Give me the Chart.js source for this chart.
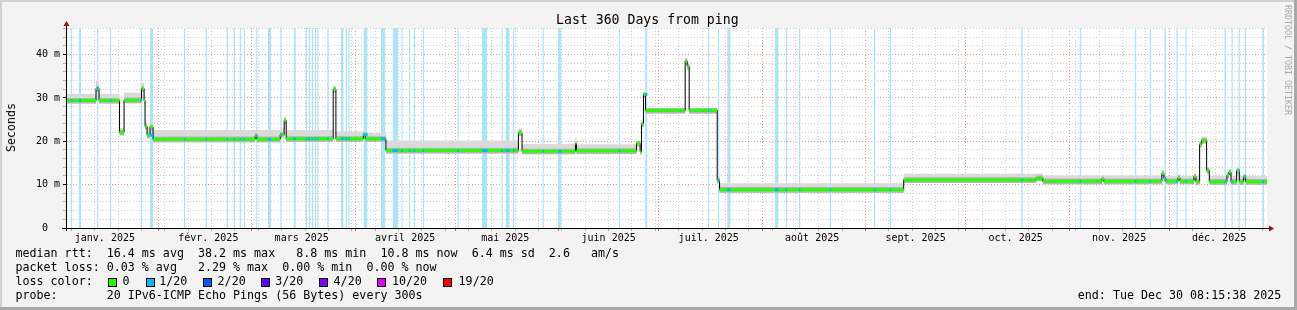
<!DOCTYPE html>
<html>
<head>
<meta charset="utf-8">
<script src="https://cdn.jsdelivr.net/npm/chart.js@4.4.1/dist/chart.umd.min.js"></script>
<style>
  html, body { margin: 0; padding: 0; background: #f3f3f3; }
  #wrap { position: relative; width: 1297px; height: 310px; overflow: hidden; background: #f3f3f3; }
  #chart { position: absolute; left: 0; top: 0; }
  .t { position: absolute; font-family: "DejaVu Sans Mono", monospace; color: #000; white-space: pre; line-height: 1; }
  .leg { font-size: 11.66px; }
  .box { position: absolute; width: 9px; height: 9px; box-sizing: border-box; border: 1px solid #000; }
  .edge { position: absolute; }
</style>
</head>
<body>
<div id="wrap">
  <canvas id="chart" width="1297" height="310"></canvas>

  <div class="t" style="left:556px; top:12.8px; font-size:13.2px;">Last 360 Days from ping</div>
  <div class="t leg" style="left:4.5px; top:103px; writing-mode:vertical-rl; transform:rotate(180deg); line-height:12px;">Seconds</div>
  <div class="t" style="left:1283px; top:5px; font-size:8.3px; line-height:9px; color:#aaaaaa; writing-mode:vertical-rl;">RRDTOOL / TOBI OETIKER</div>

  <div class="t leg" style="left:15.5px; top:248.1px;">median rtt:  16.4 ms avg  38.2 ms max   8.8 ms min  10.8 ms now  6.4 ms sd  2.6   am/s</div>
  <div class="t leg" style="left:15.5px; top:262.1px;">packet loss: 0.03 % avg   2.29 % max  0.00 % min  0.00 % now</div>
  <div class="t leg" style="left:15.5px; top:276.1px;">loss color:</div>
  <div id="losslegend"></div>
  <div class="t leg" style="left:15.5px; top:290.1px;">probe:       20 IPv6-ICMP Echo Pings (56 Bytes) every 300s</div>
  <div class="t leg" style="left:1077.8px; top:290.1px;">end: Tue Dec 30 08:15:38 2025</div>

  <div class="edge" style="left:0; top:0; width:1297px; height:2px; background:#d2d2d2;"></div>
  <div class="edge" style="left:0; top:0; width:2px; height:310px; background:#d2d2d2;"></div>
  <div class="edge" style="left:1294px; top:0; width:3px; height:310px; background:#a8a8a8;"></div>
  <div class="edge" style="left:0; top:307px; width:1297px; height:3px; background:#a8a8a8;"></div>
</div>

<script>
// Time axis: days since Jan 4 2025 08:15 (360 days up to the end time)
const START = Date.UTC(2025, 0, 4, 8, 15);
const DAY = 86400000;
const SPAN = 360;

const monthLabels = ['janv. 2025', 'févr. 2025', 'mars 2025', 'avril 2025', 'mai 2025', 'juin 2025',
                     'juil. 2025', 'août 2025', 'sept. 2025', 'oct. 2025', 'nov. 2025', 'déc. 2025'];

const yTickValues = [0, 10, 20, 30, 40];
const yTickText = ['0  ', '10 m', '20 m', '30 m', '40 m'];
const yMax = 46.15;

// Median rtt (ms): level starts at stepDay[i] and holds until the next step
const stepDay = [0, 9.0, 9.9, 16.05, 17.4, 22.65, 23.4, 23.7, 24.3, 25.2, 26.1, 56.7, 57.2, 64.2, 65.4, 66.0,
                 80.1, 80.9, 89.1, 89.7, 95.9, 135.6, 136.7, 152.7, 153.0, 171.0, 172.1, 172.5, 173.1, 173.7,
                 185.6, 186.2, 186.8, 195.2, 195.9, 251.1, 290.8, 292.8, 310.5, 311.1, 328.5, 329.1, 329.7,
                 333.3, 333.9, 338.1, 338.7, 339.8, 340.4, 341.9, 342.7, 348.0, 348.6, 349.2, 350.9, 351.7,
                 353.0, 353.6];
const stepMs = [29.4, 32.2, 29.4, 22.1, 29.5, 32.2, 29.4, 23.5, 21.4, 23.3, 20.5, 21.3, 20.5, 21.5, 24.8, 20.6,
                32.0, 20.6, 21.5, 20.6, 17.9, 22.0, 17.7, 19.5, 17.8, 19.5, 17.6, 24.0, 30.8, 27.1,
                38.5, 37.3, 27.1, 11.0, 8.85, 11.1, 11.5, 10.8, 11.3, 10.8, 12.6, 11.4, 10.8,
                11.6, 10.8, 11.9, 10.7, 19.3, 20.2, 13.3, 10.7, 12.2, 12.9, 10.7, 13.2, 10.7,
                11.8, 10.7];
// Upper edge of the light smoke (ms) for each step
const smokeTop = [31.0, 34.0, 31.0, 23.0, 31.2, 33.5, 30.5, 24.5, 23.0, 24.5, 22.6, 22.8, 22.6, 23.0, 25.8, 22.6,
                  32.8, 22.3, 22.5, 21.9, 20.2, 23.0, 19.4, 20.8, 19.3, 20.0, 18.2, 25.0, 31.5, 27.6,
                  39.2, 38.0, 27.6, 12.5, 10.3, 12.5, 12.6, 12.1, 12.2, 12.1, 13.4, 12.3, 12.0,
                  12.3, 12.0, 12.5, 12.0, 20.0, 21.1, 14.0, 12.0, 13.0, 13.6, 12.0, 13.8, 12.0,
                  12.4, 12.0];
const smokeDepth = 0.7;   // smoke below the median (ms)
const smokeCore = 0.6;    // darker smoke above the median (ms)

// Periods with packet loss (days)
const lossFrom = [1.5, 3.9, 9.3, 13.2, 22.3, 25.1, 35.35, 41.8, 48.1, 50.2, 52.0, 53.2, 57.0, 60.5, 64.2, 68.2,
                  71.8, 72.7, 73.6, 74.5, 75.3, 78.3, 82.4, 83.8, 84.6, 89.2, 94.4, 97.9, 100.5, 102.8, 104.2,
                  106.9, 117.3, 124.7, 130.5, 131.8, 134.0, 142.8, 147.5, 165.7, 173.6, 192.4, 195.4, 198.2,
                  212.5, 215.7, 219.7, 228.9, 242.2, 246.9, 286.3, 303.8, 320.4, 324.8, 329.2, 332.8, 335.5,
                  347.2, 349.3, 351.4, 353.3, 358.6];
const lossTo = [1.95, 4.5, 9.75, 13.6, 22.75, 26.1, 35.8, 42.25, 48.55, 50.65, 52.45, 53.65, 57.45, 61.5, 64.65, 68.9,
                72.25, 73.15, 74.05, 74.95, 75.75, 78.75, 83.2, 84.25, 85.05, 90.4, 95.7, 99.5, 100.95, 103.25, 104.65,
                107.35, 117.75, 126.3, 130.95, 133.0, 134.45, 143.25, 148.5, 166.15, 174.3, 192.85, 195.85, 199.2,
                213.6, 216.15, 220.15, 229.35, 242.65, 247.35, 286.8, 304.25, 320.85, 325.25, 329.7, 333.25, 335.95,
                347.7, 349.75, 351.85, 353.75, 359.1];

const lossColors = ['#26ff00', '#00b8ff', '#0059ff', '#5e00ff', '#7e00ff', '#dd00ff', '#ff0000'];
const lossNames = ['0', '1/20', '2/20', '3/20', '4/20', '10/20', '19/20'];

// Legend boxes
const boxX = [108.3, 145.7, 203.3, 261.3, 319.3, 377.3, 443.3];
const nameX = [122.6, 159.3, 217.6, 275.3, 333.6, 392.0, 458.6];
const legend = document.getElementById('losslegend');
lossNames.forEach((n, i) => {
    const b = document.createElement('div');
    b.className = 'box';
    b.style.left = boxX[i] + 'px';
    b.style.top = '278px';
    b.style.background = lossColors[i];
    legend.appendChild(b);
    const t = document.createElement('div');
    t.className = 't leg';
    t.style.left = nameX[i] + 'px';
    t.style.top = '276.1px';
    t.textContent = n;
    legend.appendChild(t);
});

// Axis positions
const dayOf = (y, m, d) => (Date.UTC(y, m, d) - START) / DAY;
const monthStarts = [];
for (let m = 1; m < 12; m++) monthStarts.push(dayOf(2025, m, 1));
const labelDays = monthLabels.map((_, m) => dayOf(2025, m, 16));
const mondays = [];
for (let d = dayOf(2025, 0, 6); d < SPAN; d += 7) {
    if (!monthStarts.some(s => Math.abs(s - d) < 0.01)) mondays.push(d);
}
const near = (list, v) => list.findIndex(d => Math.abs(d - v) < 0.01);
// one tick per position (a Monday can also be a label day)
const xTicks = [...mondays, ...monthStarts, ...labelDays]
    .sort((a, b) => a - b)
    .filter((v, i, arr) => i === 0 || Math.abs(v - arr[i - 1]) > 0.01);

// Build series
const stepEnd = i => (i + 1 < stepDay.length ? stepDay[i + 1] : SPAN);
const stepped = vals => {
    const pts = stepDay.map((d, i) => ({ x: d, y: vals[i] }));
    pts.push({ x: SPAN, y: vals[vals.length - 1] });
    return pts;
};
const medianAt = d => {
    let v = stepMs[0];
    stepDay.forEach((s, i) => { if (s <= d) v = stepMs[i]; });
    return v;
};

const lossBands = lossFrom.flatMap((f, i) => [{ x: f, y: yMax }, { x: lossTo[i], y: yMax }, { x: lossTo[i], y: null }]);
const greenParts = stepDay.flatMap((d, i) => [{ x: d, y: stepMs[i] }, { x: stepEnd(i), y: stepMs[i] }, { x: stepEnd(i), y: null }]);
const blueParts = lossFrom.flatMap((f, i) => {
    const v = medianAt(f);
    return [{ x: f, y: v }, { x: lossTo[i], y: v }, { x: lossTo[i], y: null }];
});

const base = { pointRadius: 0, tension: 0, borderWidth: 0, fill: false };

const frame = {
    id: 'frame',
    beforeDraw(chart) {
        const { ctx, chartArea: a } = chart;
        ctx.save();
        ctx.fillStyle = '#ffffff';
        ctx.fillRect(a.left, a.top, a.right - a.left, a.bottom - a.top);
        ctx.restore();
    },
    afterDraw(chart) {
        const { ctx, chartArea: a } = chart;
        ctx.save();
        ctx.strokeStyle = '#000';
        ctx.lineWidth = 1;
        ctx.beginPath();
        ctx.moveTo(a.left - 4, a.bottom + 0.5);
        ctx.lineTo(a.right + 3, a.bottom + 0.5);
        ctx.moveTo(a.left + 0.5, a.bottom + 3);
        ctx.lineTo(a.left + 0.5, a.top - 3);
        ctx.stroke();
        ctx.fillStyle = '#a01010';
        ctx.beginPath();
        ctx.moveTo(a.right + 2, a.bottom - 2.5);
        ctx.lineTo(a.right + 7, a.bottom + 0.5);
        ctx.lineTo(a.right + 2, a.bottom + 3.5);
        ctx.fill();
        ctx.beginPath();
        ctx.moveTo(a.left - 2.5, a.top - 2);
        ctx.lineTo(a.left + 0.5, a.top - 7);
        ctx.lineTo(a.left + 3.5, a.top - 2);
        ctx.fill();
        ctx.restore();
    }
};

new Chart(document.getElementById('chart').getContext('2d'), {
    type: 'line',
    data: {
        datasets: [
            { ...base, data: lossBands, fill: 'origin', backgroundColor: '#a9e4f8', order: 10 },
            { ...base, data: stepped(stepMs.map(v => v - smokeDepth)), stepped: true, order: 9 },
            { ...base, data: stepped(smokeTop), stepped: true, fill: '-1', backgroundColor: '#dadada', order: 8 },
            { ...base, data: stepped(stepMs.map(v => v - smokeDepth)), stepped: true, order: 7 },
            { ...base, data: stepped(stepMs.map(v => v + smokeCore)), stepped: true, fill: '-1', backgroundColor: '#b4b4b4', order: 6 },
            { ...base, data: stepped(stepMs), stepped: true, borderWidth: 1, borderColor: '#000', order: 4 },
            { ...base, data: greenParts, borderWidth: 3, borderColor: lossColors[0], borderCapStyle: 'butt', order: 3 },
            { ...base, data: blueParts, borderWidth: 3, borderColor: lossColors[1], borderCapStyle: 'butt', order: 2 }
        ]
    },
    options: {
        responsive: false,
        animation: false,
        events: [],
        layout: { padding: { left: 0, top: 28, right: 30, bottom: 0 } },
        plugins: { legend: { display: false }, tooltip: { enabled: false } },
        scales: {
            x: {
                type: 'linear',
                min: 0,
                max: SPAN,
                bounds: 'data',
                afterBuildTicks: s => { s.ticks = xTicks.map(v => ({ value: v })); },
                afterFit: s => { s.height = 82; },
                ticks: {
                    autoSkip: false,
                    maxRotation: 0,
                    minRotation: 0,
                    padding: 1,
                    color: '#000',
                    font: { family: '"DejaVu Sans Mono"', size: 10 },
                    callback: v => {
                        const i = near(labelDays, v);
                        return i >= 0 ? monthLabels[i] : '';
                    }
                },
                grid: {
                    lineWidth: 1,
                    tickLength: 3,
                    color: c => {
                        if (!c.tick) return '#000';
                        if (near(monthStarts, c.tick.value) >= 0) return '#ee9a9a';
                        if (near(mondays, c.tick.value) >= 0) return '#d0d0d0';
                        return 'rgba(0,0,0,0)';
                    },
                    tickColor: c => {
                        if (!c.tick) return '#000';
                        if (near(monthStarts, c.tick.value) >= 0) return '#e06060';
                        if (near(mondays, c.tick.value) >= 0) return '#b0b0b0';
                        return 'rgba(0,0,0,0)';
                    }
                },
                border: { display: true, color: '#000', dash: [1, 2] }
            },
            y: {
                type: 'linear',
                min: 0,
                max: yMax,
                bounds: 'data',
                afterFit: s => { s.width = 66; },
                ticks: {
                    stepSize: 2,
                    includeBounds: false,
                    autoSkip: false,
                    padding: 3,
                    color: '#000',
                    font: { family: '"DejaVu Sans Mono"', size: 10 },
                    callback: v => {
                        const i = yTickValues.indexOf(v);
                        return i >= 0 ? yTickText[i] : '';
                    }
                },
                grid: {
                    lineWidth: 1,
                    tickLength: 3,
                    color: c => (c.tick && c.tick.value > 0 && c.tick.value % 10 === 0 ? '#ee9a9a' : '#d0d0d0'),
                    tickColor: c => (c.tick && c.tick.value % 10 === 0 ? '#000' : '#b0b0b0')
                },
                border: { display: true, color: '#000', dash: [1, 2] }
            }
        }
    },
    plugins: [frame]
});
</script>
</body>
</html>
